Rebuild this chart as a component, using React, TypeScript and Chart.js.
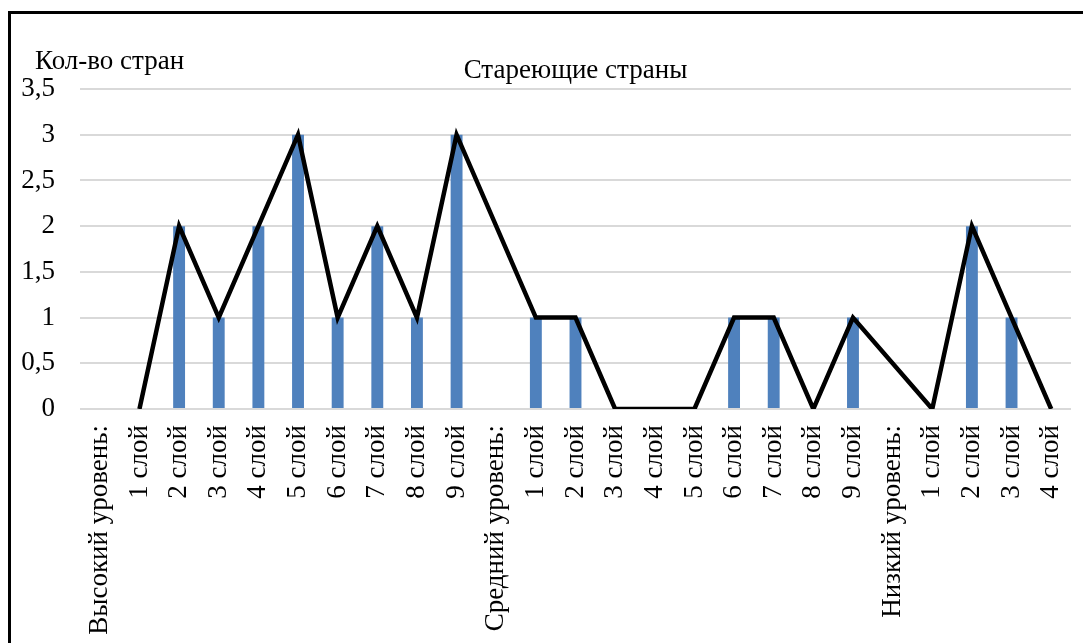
import React, { useEffect, useRef } from "react";
import { Chart, registerables } from "chart.js";

Chart.register(...registerables);

const categories: string[] = [
  "Высокий уровень:", "1 слой", "2 слой", "3 слой", "4 слой", "5 слой", "6 слой", "7 слой", "8 слой", "9 слой",
  "Средний уровень:", "1 слой", "2 слой", "3 слой", "4 слой", "5 слой", "6 слой", "7 слой", "8 слой", "9 слой",
  "Низкий уровень:", "1 слой", "2 слой", "3 слой", "4 слой",
];

const countries: (number | null)[] = [
  null, 0, 2, 1, 2, 3, 1, 2, 1, 3,
  null, 1, 1, 0, 0, 0, 1, 1, 0, 1,
  null, 0, 2, 1, 0,
];

const yTicks: number[] = [0, 0.5, 1, 1.5, 2, 2.5, 3, 3.5];

const chartTitle = "Стареющие страны";
const yAxisTitle = "Кол-во стран";

const FONT = "'Liberation Serif', 'Times New Roman', serif";
const FS = 27;

export default function App() {
  const ref = useRef<HTMLCanvasElement | null>(null);

  useEffect(() => {
    if (!ref.current) return;
    const yLabelPlugin = {
      id: "yLabel",
      afterDraw(chart: any) {
        const ctx = chart.ctx;
        ctx.save();
        ctx.font = `${FS}px ${FONT}`;
        ctx.fillStyle = "#000";
        ctx.textAlign = "left";
        ctx.textBaseline = "alphabetic";
        ctx.fillText(yAxisTitle, 24, 55);
        ctx.restore();
      },
    };
    const chart = new Chart(ref.current, {
      type: "bar",
      data: {
        labels: categories,
        datasets: [
          {
            type: "line",
            data: countries,
            borderColor: "#000",
            borderWidth: 4.5,
            pointRadius: 0,
            spanGaps: true,
            tension: 0,
            order: 0,
          } as any,
          {
            type: "bar",
            data: countries,
            backgroundColor: "#4f81bd",
            barPercentage: 0.3,
            categoryPercentage: 1,
            order: 1,
          },
        ],
      },
      options: {
        responsive: false,
        animation: false,
        layout: { padding: { left: 0, right: 12, top: 0, bottom: 0 } },
        plugins: {
          legend: { display: false },
          tooltip: { enabled: false },
          title: {
            display: true,
            text: chartTitle,
            fullSize: false,
            color: "#000",
            font: { family: FONT, size: FS, weight: "normal" },
            padding: { top: 41, bottom: 1.6 },
          },
        },
        scales: {
          x: {
            grid: { display: false, drawTicks: false },
            border: { display: false },
            ticks: {
              autoSkip: false,
              minRotation: 90,
              maxRotation: 90,
              padding: 16,
              color: "#000",
              font: { family: FONT, size: FS },
            },
            afterFit(scale: any) {
              scale.height = 235;
              scale.paddingLeft = 0;
              scale.paddingRight = 0;
            },
          },
          y: {
            min: 0,
            max: 3.5,
            afterBuildTicks(scale: any) {
              scale.ticks = yTicks.map((v) => ({ value: v }));
            },
            grid: { color: "#d9d9d9", lineWidth: 2, drawTicks: false },
            border: { display: false },
            ticks: {
              padding: 25,
              color: "#000",
              font: { family: FONT, size: FS },
              callback: (v: any) => String(v).replace(".", ","),
            },
            afterFit(scale: any) {
              scale.width = 69;
              scale.paddingTop = 0;
              scale.paddingBottom = 0;
            },
          },
        },
      },
      plugins: [yLabelPlugin],
    });
    return () => chart.destroy();
  }, []);

  return (
    <div
      style={{
        position: "absolute",
        left: 8,
        top: 11,
        width: 1075,
        height: 632,
        overflow: "hidden",
      }}
    >
      <div
        style={{
          position: "relative",
          width: 1100,
          height: 700,
          borderLeft: "3px solid #000",
          borderTop: "3px solid #000",
          background: "#fff",
        }}
      >
        <canvas ref={ref} width={1072} height={630} style={{ position: "absolute", left: 0, top: 0 }} />
      </div>
    </div>
  );
}
